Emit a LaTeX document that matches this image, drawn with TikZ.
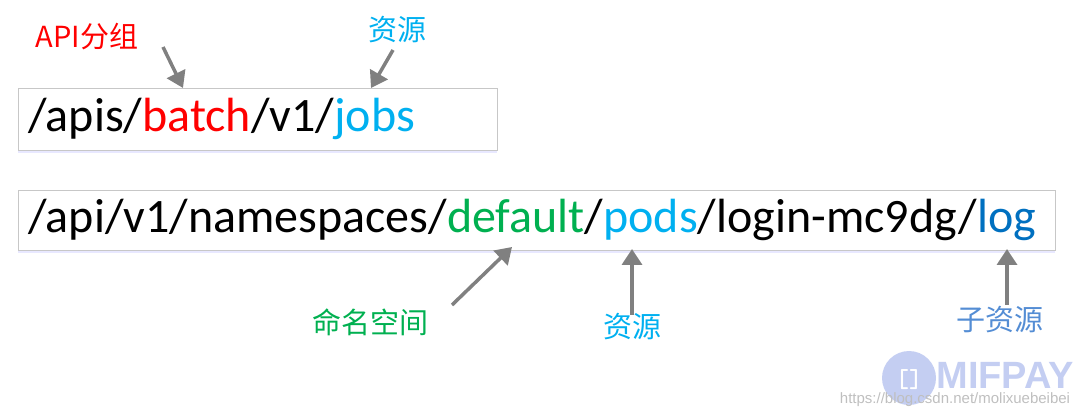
\documentclass[tikz,border=0pt]{standalone}
\usepackage{fontspec}
\setmainfont{Carlito}
\newfontfamily\cjk{Noto Sans CJK SC}
\newfontfamily\wmfont{Liberation Sans}
\usetikzlibrary{shadows}

\definecolor{apired}{RGB}{255,0,0}
\definecolor{resblue}{RGB}{0,176,240}
\definecolor{nsgreen}{RGB}{0,176,80}
\definecolor{logblue}{RGB}{0,112,192}
\definecolor{subblue}{RGB}{84,141,212}
\definecolor{wmblue}{RGB}{196,206,242}

\tikzset{
  urlbox/.style={draw=black!22, fill=white, drop shadow={shadow xshift=0pt, shadow yshift=-3pt, fill=blue!15, opacity=0.6}},
  urltext/.style={anchor=west, font=\fontsize{48}{52}\selectfont, inner sep=0pt},
  tag/.style={font=\cjk\fontsize{29}{33}\selectfont},
  pointer/.style={draw=black!50, line width=3.5pt, -{Triangle[length=16pt,width=20pt]}}
}
\usetikzlibrary{arrows.meta}

\begin{document}
\begin{tikzpicture}[x=1pt, y=-1pt]
\useasboundingbox (0,0) rectangle (1080,414);

% boxes
\draw[urlbox] (18,88) rectangle (497,150);
\draw[urlbox] (18,190) rectangle (1055,250);

\node[urltext] (jobsurl) at (28,119) {/apis/\textcolor{apired}{batch}/v1/\textcolor{resblue}{jobs}};
\node[urltext] (podurl) at (28,220) {/api/v1/namespaces/\textcolor{nsgreen}{default}/\textcolor{resblue}{pods}/login-mc9dg/\textcolor{logblue}{log}};

% labels
\node[tag, text=apired] (group) at (87,37) {API分组};
\node[tag, text=resblue] (res1) at (397,30) {资源};
\node[tag, text=nsgreen] (ns) at (370,322) {命名空间};
\node[tag, text=resblue] (res2) at (632,327) {资源};
\node[tag, text=subblue] (subres) at (1000,320) {子资源};

% arrows
\coordinate (g1) at (163,47); \coordinate (g2) at (183,88);
\coordinate (r1) at (393,50); \coordinate (r2) at (371,88);
\coordinate (n1) at (452,305); \coordinate (n2) at (512,247);
\coordinate (p1) at (632,315); \coordinate (p2) at (632,249);
\coordinate (s1) at (1007,305); \coordinate (s2) at (1007,249);
\draw[pointer] (g1) -- (g2);
\draw[pointer] (r1) -- (r2);
\draw[pointer] (n1) -- (n2);
\draw[pointer] (p1) -- (p2);
\draw[pointer] (s1) -- (s2);

% watermark
\fill[wmblue] (909,378) circle (27);
\node[text=white, font=\wmfont\bfseries\fontsize{26}{28}\selectfont] (logo) at (909,380) {\texttt{[]}};
\node[text=wmblue, font=\wmfont\bfseries\fontsize{38}{40}\selectfont] (mifpay) at (1005,375) {MIFPAY};
\node[text=black!25, font=\wmfont\fontsize{15}{17}\selectfont] (site) at (955,400) {https://blog.csdn.net/molixuebeibei};
\end{tikzpicture}
\end{document}
